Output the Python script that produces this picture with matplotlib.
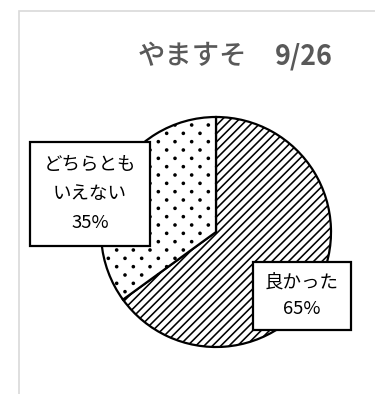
import numpy as np
import matplotlib
matplotlib.use('Agg')
import matplotlib.pyplot as plt
import matplotlib.hatch as mhatch
from matplotlib.patches import Rectangle

plt.rcParams['font.family'] = ['Noto Sans CJK JP', 'DejaVu Sans']
plt.rcParams['hatch.linewidth'] = 1.15

title_jp = 'やますそ'
title_date = '9/26'
labels = ['良かった', 'どちらとも\nいえない']
values = [65, 35]
hatches = ['////', '.']


class StaggeredDots(mhatch.SmallFilledCircles):
    '''Small dots, rows at half spacing and every other row shifted (like the Excel pattern)'''
    size = 0.06

    def __init__(self, hatch, density):
        super().__init__(hatch, density)
        n = self.num_rows
        if n:
            self.num_shapes = (n + 1) * (n + 1) + n * n
            self.num_vertices = self.num_shapes * len(self.shape_vertices)

    def set_vertices_and_codes(self, vertices, codes):
        n = self.num_rows
        offset = 1.0 / n
        shape = self.shape_vertices * offset * self.size
        parts = []
        for row in range(2 * n + 1):
            if row % 2 == 0:
                cols = np.linspace(0, 1, n + 1)
            else:
                cols = np.linspace(offset / 2, 1 - offset / 2, n)
            for c in cols:
                parts.append(shape + [c, row * offset / 2])
        vertices[:] = np.concatenate(parts)
        codes[:] = np.tile(self.shape_codes, len(parts))


mhatch._hatch_types = [StaggeredDots if t is mhatch.SmallFilledCircles else t
                       for t in mhatch._hatch_types]

W, H = 375, 394
fig = plt.figure(figsize=(W / 100, H / 100), dpi=100)

# light frame around the chart area (runs off to the right and bottom)
fig.patches.append(Rectangle((19 / W, -0.1), 2, 1 - 11 / H + 0.1,
                             transform=fig.transFigure, fill=False,
                             edgecolor='#d9d9d9', linewidth=1.2))

fig.text(138 / W, 1 - 64 / H, title_jp, ha='left', va='baseline',
         fontsize=19.7, fontweight='medium', color='#595959')
fig.text(275 / W, 1 - 64 / H, title_date, ha='left', va='baseline',
         fontsize=19.3, fontweight='bold', color='#595959')

# pie axes, centre (216, 232) px, radius 115 px
cx, cy, r = 216, 232, 115
ax = fig.add_axes([(cx - r) / W, (H - cy - r) / H, 2 * r / W, 2 * r / H])
wedges, _ = ax.pie(values, startangle=90, counterclock=False,
                   colors=['white', 'white'],
                   wedgeprops=dict(edgecolor='black', linewidth=1.6))
for w, h in zip(wedges, hatches):
    w.set_hatch(h)
ax.set_aspect('equal')
ax.set_xlim(-1, 1)
ax.set_ylim(-1, 1)

pos = [(302, 296), (90, 194)]
pads = [0.65, 0.72]
spacing = [1.6, 1.82]
for lab, v, (px, py), pad, ls in zip(labels, values, pos, pads, spacing):
    box = dict(boxstyle=f'square,pad={pad}', facecolor='white',
               edgecolor='black', linewidth=1.6)
    fig.text(px / W, 1 - py / H, f'{lab}\n{v}%', ha='center', va='center',
             fontsize=13.3, linespacing=ls, bbox=box, color='black')

fig.savefig('out.png', dpi=100)
